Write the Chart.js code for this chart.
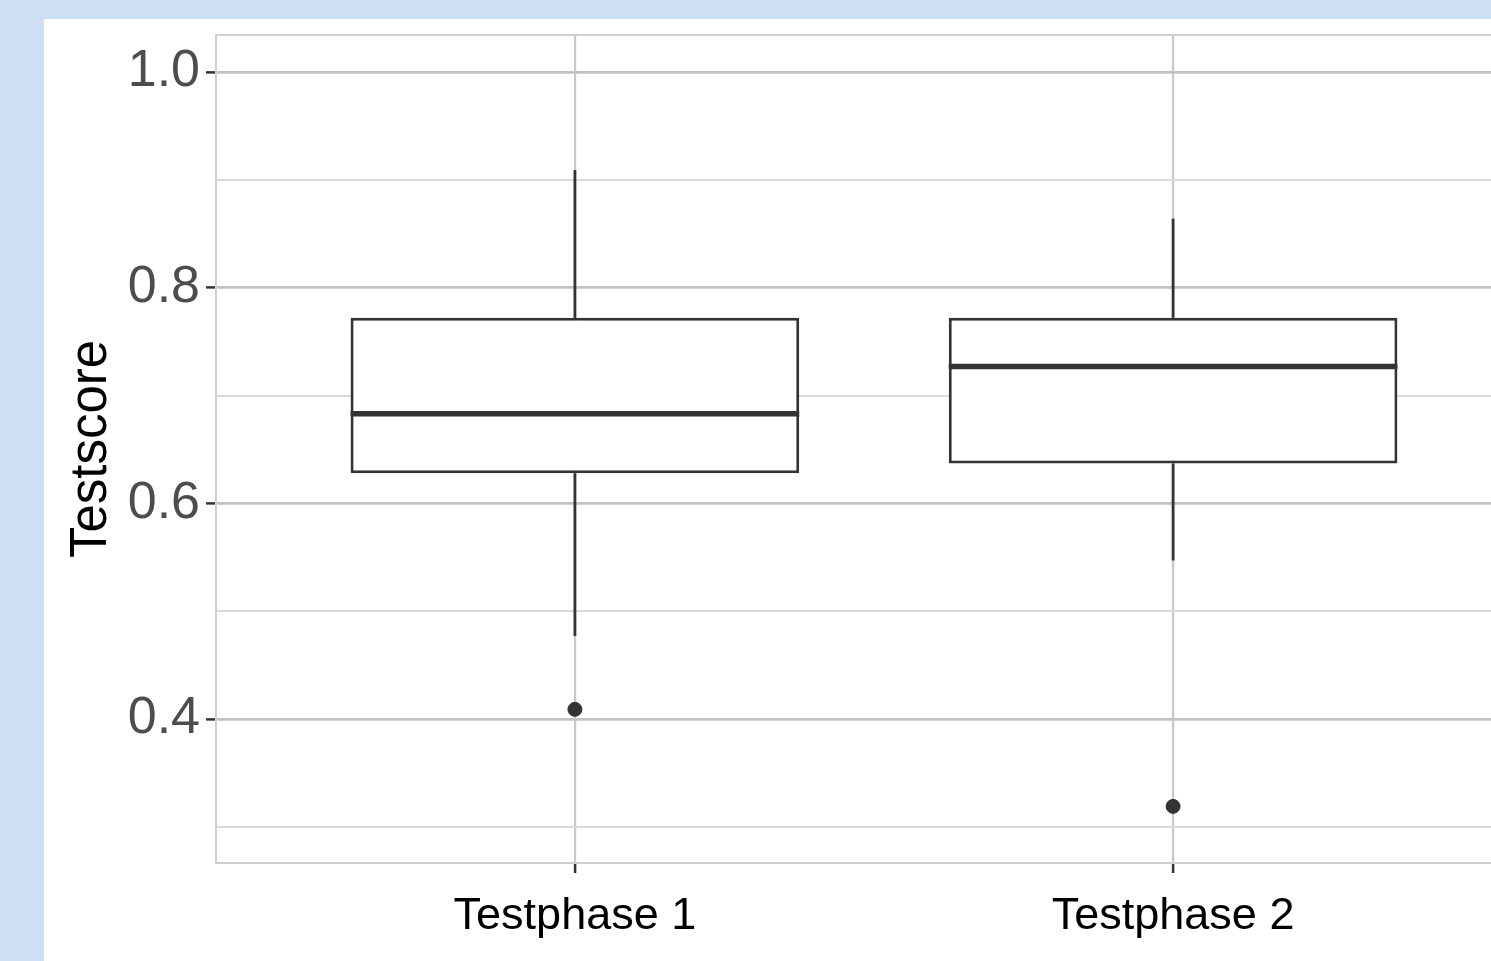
<!DOCTYPE html>
<html>
<head>
<meta charset="utf-8">
<script src="https://cdn.jsdelivr.net/npm/chart.js@4/dist/chart.umd.min.js"></script>
<style>
  html, body { margin: 0; padding: 0; overflow: hidden; background: #cce0f1; width: 1491px; height: 961px; }
  #panel { position: absolute; left: 44px; top: 19px; width: 1500px; height: 942px; background: #fff; }
  #chart { display: block; }
</style>
</head>
<body>
<div id="panel"><canvas id="chart" width="1500" height="942"></canvas></div>
<script>
// --- Data ---
const categories = ['Testphase 1', 'Testphase 2'];
const whiskerLow = [0.477, 0.547];
const q1 = [0.628, 0.637];
const median = [0.683, 0.727];
const q3 = [0.772, 0.772];
const whiskerHigh = [0.909, 0.864];
const outliers = [[0.409], [0.319]];

const majorTicks = [0.4, 0.6, 0.8, 1.0];
const minorTicks = [0.3, 0.5, 0.7, 0.9];
const yRange = [0.2665, 1.0343];
const boxHalf = 0.375;

const dark = '#333333';
const isMajor = v => majorTicks.some(t => Math.abs(t - v) < 1e-6);

// --- Build datasets from the arrays ---
const datasets = [];

// boxes as floating bars
datasets.push({
  type: 'bar',
  data: categories.map((c, i) => ({ x: i + 1, y: [q1[i], q3[i]] })),
  backgroundColor: '#ffffff',
  borderColor: dark,
  borderWidth: 3,
  borderSkipped: false,
  categoryPercentage: 1,
  barPercentage: boxHalf * 2,
  order: 3
});

categories.forEach((c, i) => {
  const x = i + 1;
  // upper and lower whiskers
  [[q3[i], whiskerHigh[i]], [q1[i], whiskerLow[i]]].forEach(([a, b]) => {
    datasets.push({
      type: 'line',
      data: [{ x: x, y: a }, { x: x, y: b }],
      borderColor: dark, borderWidth: 2.8,
      pointRadius: 0, fill: false, tension: 0, order: 2
    });
  });
  // median
  datasets.push({
    type: 'line',
    data: [{ x: x - boxHalf, y: median[i] }, { x: x + boxHalf, y: median[i] }],
    borderColor: dark, borderWidth: 5.5,
    pointRadius: 0, fill: false, tension: 0, order: 1
  });
  // outliers
  datasets.push({
    type: 'scatter',
    data: outliers[i].map(v => ({ x: x, y: v })),
    backgroundColor: dark, borderColor: dark,
    pointRadius: 7, order: 0
  });
});

// panel border
const panelBorder = {
  id: 'panelBorder',
  afterDatasetsDraw(chart) {
    const { ctx, chartArea: a } = chart;
    ctx.save();
    ctx.strokeStyle = '#cfcfcf';
    ctx.lineWidth = 2;
    ctx.strokeRect(a.left, a.top, a.right - a.left, a.bottom - a.top);
    ctx.restore();
  }
};

new Chart(document.getElementById('chart'), {
  type: 'bar',
  data: { datasets },
  plugins: [panelBorder],
  options: {
    responsive: false,
    animation: false,
    layout: { padding: { top: 16, right: 12, left: 0, bottom: 0 } },
    plugins: { legend: { display: false }, tooltip: { enabled: false } },
    scales: {
      x: {
        type: 'linear',
        min: 0.4,
        max: 2.6,
        offset: false,
        afterBuildTicks: s => { s.ticks = categories.map((c, i) => ({ value: i + 1 })); },
        afterFit: s => { s.height = 98; s.paddingLeft = 0; s.paddingRight = 0; },
        grid: { offset: false, color: '#c8c8c8', lineWidth: 2.2, tickLength: 10, tickColor: dark, tickWidth: 2.5 },
        border: { display: false },
        ticks: {
          callback: v => categories[Math.round(v) - 1],
          color: '#000000',
          font: { family: 'Liberation Sans', size: 45 },
          padding: 17,
          maxRotation: 0
        }
      },
      y: {
        min: yRange[0],
        max: yRange[1],
        afterBuildTicks: s => {
          s.ticks = minorTicks.concat(majorTicks).sort((a, b) => a - b).map(v => ({ value: v }));
        },
        afterFit: s => { s.width = 172; s.paddingTop = 0; s.paddingBottom = 0; },
        grid: {
          color: c => isMajor(c.tick.value) ? '#c2c2c2' : '#dadada',
          lineWidth: c => isMajor(c.tick.value) ? 2.8 : 2,
          tickLength: 10,
          tickColor: c => isMajor(c.tick.value) ? dark : 'rgba(0,0,0,0)',
          tickWidth: 2.5
        },
        border: { display: false },
        ticks: {
          callback: v => isMajor(v) ? v.toFixed(1) : '',
          color: '#4d4d4d',
          font: { family: 'Liberation Sans', size: 52 },
          padding: 6
        },
        title: {
          display: true,
          text: 'Testscore',
          color: '#000000',
          font: { family: 'Liberation Sans', size: 51 },
          padding: { top: 17, bottom: 0 }
        }
      }
    }
  }
});
</script>
</body>
</html>
